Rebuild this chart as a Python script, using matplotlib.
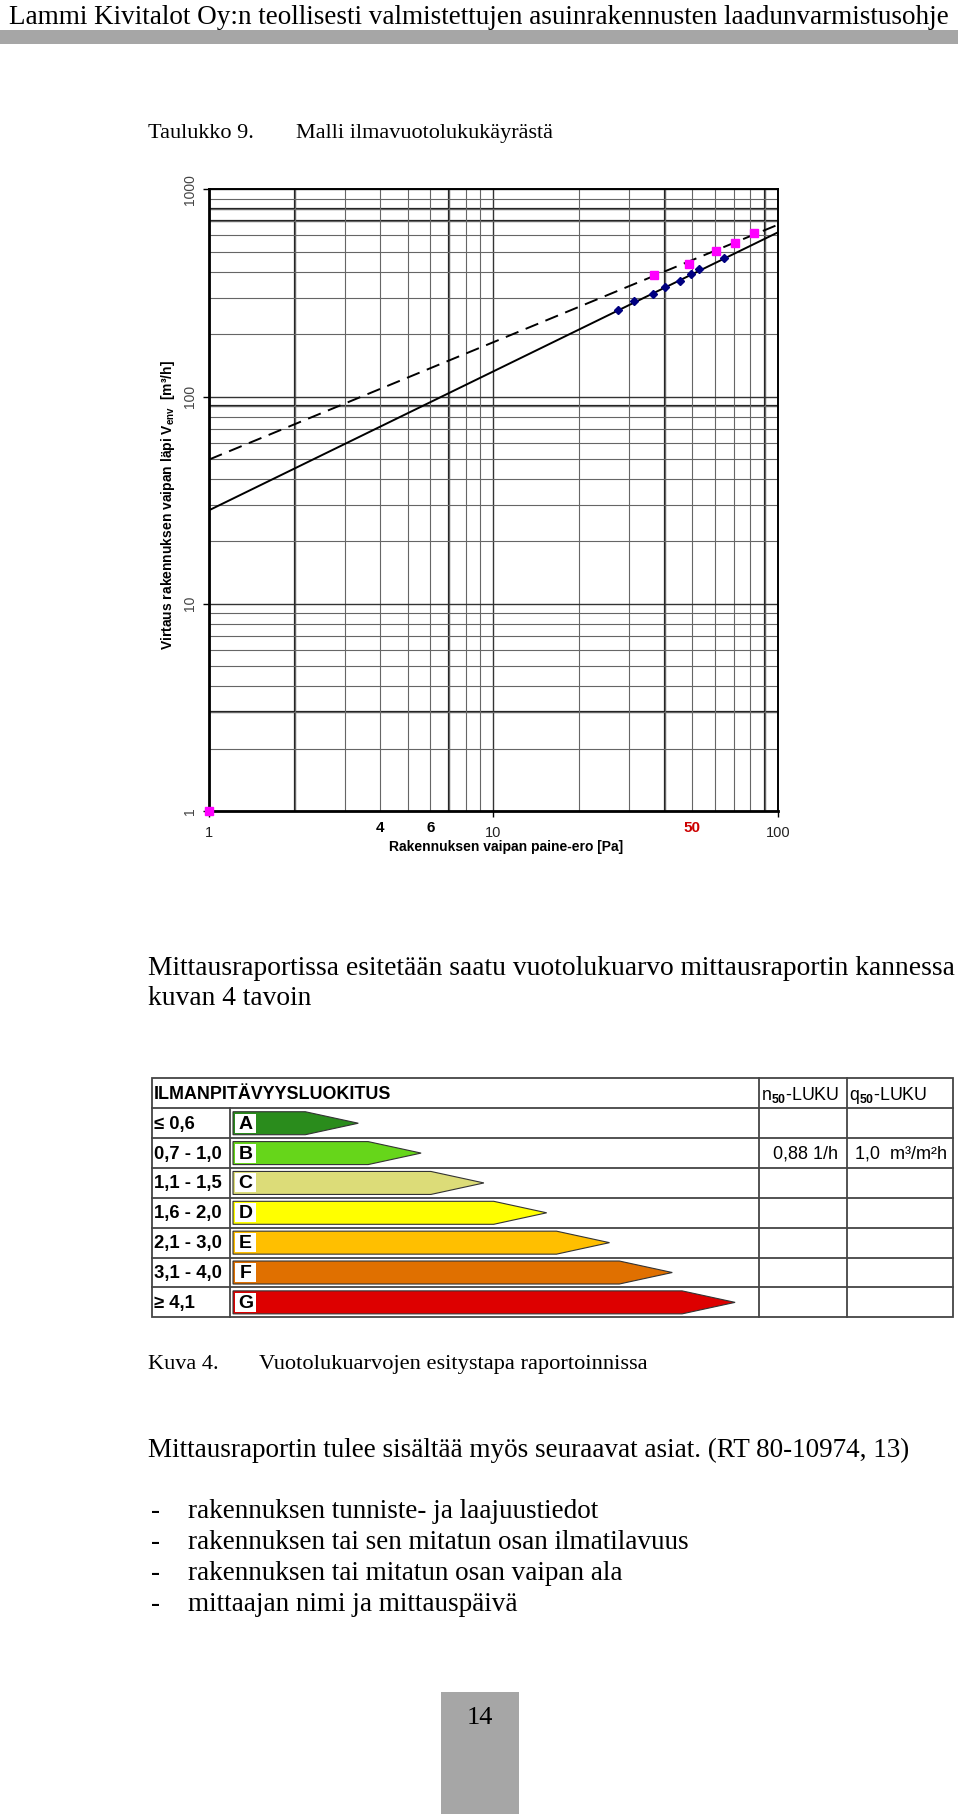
import matplotlib
matplotlib.use('Agg')
import matplotlib.pyplot as plt
from matplotlib.patches import Rectangle, Polygon

plt.rcParams['mathtext.fontset'] = 'custom'
plt.rcParams['mathtext.rm'] = 'Liberation Sans'
plt.rcParams['mathtext.bf'] = 'Liberation Sans:bold'

SERIF = 'Liberation Serif'
SANS = ['Liberation Sans', 'DejaVu Sans']

# --- kuvaajan tiedot (luettu kuvasta) ---
viiva_p = [1, 100]
viiva_kiintea = [28.3, 619]      # yhtenäinen viiva
viiva_katko = [49.7, 674]        # katkoviiva

mitattu_p = [27.4, 31.2, 36.3, 40.0, 45.2, 49.4, 53.0, 64.7]
mitattu_v = [262, 288, 314, 338, 362, 392, 411, 468]

korjattu_p = [1, 36.8, 48.7, 60.9, 70.6, 82.3]
korjattu_v = [1, 388, 437, 505, 548, 612]

x_tikit = [1, 10, 100]
x_lisatikit = [4, 6, 50]
y_tikit = [1, 10, 100, 1000]

# --- luokitustaulukko ---
luokat = ['A', 'B', 'C', 'D', 'E', 'F', 'G']
rajat = ['≤ 0,6', '0,7 - 1,0', '1,1 - 1,5', '1,6 - 2,0', '2,1 - 3,0', '3,1 - 4,0', '≥ 4,1']
varit = ['#2a8c1c', '#66d61a', '#dcdc78', '#ffff00', '#ffbf00', '#e07000', '#dd0000']
oma_luokka = 'B'
n50_arvo = '0,88 1/h'
q50_arvo = '1,0  m³/m²h'

# --- tekstit ---
otsikko = 'Lammi Kivitalot Oy:n teollisesti valmistettujen asuinrakennusten laadunvarmistusohje'
kappale1 = ['Mittausraportissa esitetään saatu vuotolukuarvo mittausraportin kannessa',
            'kuvan 4 tavoin']
kappale2 = 'Mittausraportin tulee sisältää myös seuraavat asiat. (RT 80-10974, 13)'
luettelo = ['rakennuksen tunniste- ja laajuustiedot',
            'rakennuksen tai sen mitatun osan ilmatilavuus',
            'rakennuksen tai mitatun osan vaipan ala',
            'mittaajan nimi ja mittauspäivä']

fig = plt.figure(figsize=(9.6, 18.14), dpi=100)
sivu = fig.add_axes([0, 0, 1, 1])
sivu.set_xlim(0, 960)
sivu.set_ylim(1814, 0)
sivu.axis('off')

# ylätunniste
sivu.text(9, 24, otsikko, family=SERIF, fontsize=19.5, va='baseline')
sivu.add_patch(Rectangle((0, 30), 958, 14, color='#a6a6a6', lw=0))

sivu.text(148, 138, 'Taulukko 9.', family=SERIF, fontsize=16, va='baseline')
sivu.text(296, 138, 'Malli ilmavuotolukukäyrästä', family=SERIF, fontsize=16, va='baseline')

# --- ilmavuotokuvaaja ---
ax = fig.add_axes([209.3 / 960, 1 - 811 / 1814, 568.4 / 960, 621.7 / 1814])
ax.set_xscale('log')
ax.set_yscale('log')
ax.set_xlim(1, 100)
ax.set_ylim(1, 1000)
ax.set_axisbelow(True)
ax.grid(which='major', color='#333333', lw=1.0)
ax.grid(which='minor', color='#666666', lw=0.8)
for v in [2, 7, 40, 90]:
    ax.axvline(v, color='#222222', lw=1.6, zorder=0.5)
for v in [3, 90, 700, 800]:
    ax.axhline(v, color='#222222', lw=1.6, zorder=0.5)

ax.plot(viiva_p, viiva_kiintea, color='black', lw=1.4)
ax.plot(viiva_p, viiva_katko, color='black', lw=1.4, dashes=(7, 4))
ax.plot(mitattu_p, mitattu_v, 'D', color='#000080', ms=4.5, zorder=3)
ax.plot(korjattu_p, korjattu_v, 's', color='#ff00ff', ms=6, zorder=3, clip_on=False)

for s in ['left', 'bottom']:
    ax.spines[s].set_linewidth(2)
for s in ['top', 'right']:
    ax.spines[s].set_linewidth(1.4)

ax.set_xticks(x_tikit)
ax.set_xticklabels([str(v) for v in x_tikit], family=SANS, fontsize=10.5, color='#222222')
ax.set_yticks(y_tikit)
ax.set_yticklabels([str(v) for v in y_tikit], family=SANS, fontsize=10, color='#444444',
                   rotation=90, va='center')
ax.tick_params(which='minor', length=0)
ax.tick_params(which='major', length=4, width=1, direction='out')
ax.tick_params(axis='x', pad=7)
ax.tick_params(axis='y', pad=5)
for v in x_lisatikit:
    ax.text(v, -0.027, str(v), transform=ax.get_xaxis_transform(), ha='center', va='center',
            family=SANS, fontsize=11, weight='bold', color='#cc0000' if v == 50 else 'black')

sivu.text(506, 847, 'Rakennuksen vaipan paine-ero [Pa]', family=SANS, fontsize=10,
          weight='bold', ha='center', va='center')
sivu.text(168, 505, 'Virtaus rakennuksen vaipan läpi V$_{\\mathbf{env}}$  [m³/h]', family=SANS,
          fontsize=10, weight='bold', rotation=90, ha='center', va='center')

# --- kappale ---
for i, rivi in enumerate(kappale1):
    sivu.text(148, 975 + i * 30, rivi, family=SERIF, fontsize=19.8, va='baseline')

# --- ilmanpitävyysluokitus ---
vasen, oikea, yla, ala = 152.3, 953.3, 1078.3, 1317.3
otsake_h = 30
rivi_h = (ala - yla - otsake_h) / len(luokat)
viiva_vari = '#444444'
sivu.add_patch(Rectangle((vasen, yla), oikea - vasen, ala - yla, fill=False,
                         ec=viiva_vari, lw=1.3))
for i in range(len(luokat)):
    y = yla + otsake_h + i * rivi_h
    sivu.plot([vasen, oikea], [y, y], color=viiva_vari, lw=1.3)
sivu.plot([230, 230], [yla + otsake_h, ala], color=viiva_vari, lw=1.3)
for x in [759, 846.7]:
    sivu.plot([x, x], [yla, ala], color=viiva_vari, lw=1.3)

sivu.text(154, yla + 16, 'ILMANPITÄVYYSLUOKITUS', family=SANS, fontsize=12.9,
          weight='bold', va='center')
sivu.text(761, yla + 17, 'n$_{\\mathbf{50}}$-LUKU', family=SANS, fontsize=12.8, va='center')
sivu.text(849, yla + 17, 'q$_{\\mathbf{50}}$-LUKU', family=SANS, fontsize=12.8, va='center')

for i, (luokka, raja, vari) in enumerate(zip(luokat, rajat, varit)):
    yc = yla + otsake_h + (i + 0.5) * rivi_h
    h = 23
    x0 = 233
    karki = 358.3 + i * 62.8
    kanta = karki - 53
    sivu.add_patch(Polygon([(x0, yc - h / 2), (kanta, yc - h / 2), (karki, yc),
                            (kanta, yc + h / 2), (x0, yc + h / 2)],
                           closed=True, fc=vari, ec='#333333', lw=0.8))
    sivu.add_patch(Rectangle((x0 + 2, yc - h / 2 + 2), 21, h - 4, fc='white', lw=0))
    sivu.text(x0 + 12.5, yc + 1, luokka, family=SANS, fontsize=14, weight='bold',
              ha='center', va='center')
    sivu.text(154, yc + 1, raja, family=SANS, fontsize=13.3, weight='bold', va='center')
    if luokka == oma_luokka:
        sivu.text(838, yc + 1, n50_arvo, family=SANS, fontsize=13, ha='right', va='center')
        sivu.text(855, yc + 1, q50_arvo, family=SANS, fontsize=13, va='center')

sivu.text(148, 1369, 'Kuva 4.', family=SERIF, fontsize=16, va='baseline')
sivu.text(259, 1369, 'Vuotolukuarvojen esitystapa raportoinnissa', family=SERIF,
          fontsize=16.1, va='baseline')

sivu.text(148, 1457, kappale2, family=SERIF, fontsize=19.5, va='baseline')
for i, rivi in enumerate(luettelo):
    y = 1518 + i * 31
    sivu.text(151, y, '-', family=SERIF, fontsize=19.5, va='baseline')
    sivu.text(188, y, rivi, family=SERIF, fontsize=19.5, va='baseline')

# sivunumero
sivu.add_patch(Rectangle((440.7, 1691.7), 78.6, 130, color='#a6a6a6', lw=0))
sivu.text(480, 1718, '14', family=SERIF, fontsize=19, ha='center', va='center')

fig.savefig('out.png', dpi=100)
